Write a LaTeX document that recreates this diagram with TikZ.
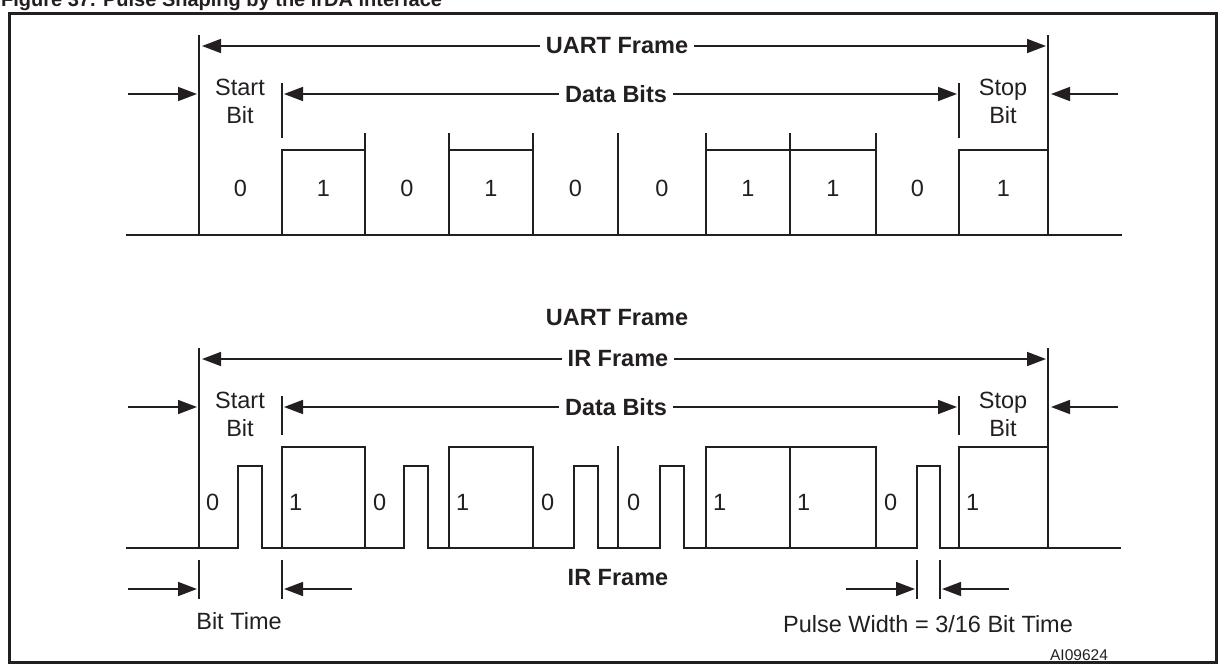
\documentclass[tikz,border=0pt]{standalone}
\usepackage{fontspec}
\setmainfont{Liberation Sans}
\usetikzlibrary{arrows.meta}
\definecolor{ink}{RGB}{35,31,32}
\begin{document}
\begin{tikzpicture}[x=1pt,y=-1pt,line join=miter,
  wave/.style={draw=ink,line width=1.6pt},
  dimarrow/.style={draw=ink,line width=1.6pt,-{Triangle[length=19pt,width=14pt]}},
  lbl/.style={font=\fontsize{23.5}{26}\selectfont,text=ink,inner sep=0pt},
  blbl/.style={font=\fontsize{23.5}{26}\selectfont\bfseries,text=ink,fill=white,inner xsep=6pt,inner ysep=2pt},
  bitlbl/.style={lbl,anchor=west}
]
\useasboundingbox (0,0) rectangle (1226,664);
% frame and title
\draw[ink,line width=2.5pt] (9.5,13.5) rectangle (1216.5,662.5);
\node[anchor=base west,font=\fontsize{20}{24}\selectfont\bfseries,text=ink,inner sep=0pt] (title) at (1,6.5) {Figure 37. Pulse Shaping by the IrDA interface};

% ================= TOP (UART) =================
\coordinate (tL) at (199,46); \coordinate (tR) at (1048,46);
\draw[wave] (199,35) -- (199,235);
\draw[wave] (1048,35) -- (1048,235);
\node[blbl] (uf1) at (617,46) {UART Frame};
\draw[dimarrow] (uf1.west) -- ([xshift=3pt]tL);
\draw[dimarrow] (uf1.east) -- ([xshift=-2pt]tR);
% data bits
\draw[wave] (282,83) -- (282,138);
\draw[wave] (959,83) -- (959,138);
\coordinate (dL1) at (284,94); \coordinate (dR1) at (957,94);
\node[blbl] (db1) at (616,94) {Data Bits};
\draw[dimarrow] (db1.west) -- (dL1);
\draw[dimarrow] (db1.east) -- (dR1);
% outer arrows
\coordinate (oL1) at (128,94); \coordinate (oL1e) at (197,94);
\coordinate (oR1) at (1118,94); \coordinate (oR1e) at (1051,94);
\draw[dimarrow] (oL1) -- (oL1e);
\draw[dimarrow] (oR1) -- (oR1e);
\node[lbl,anchor=base] (start1) at (240,95.4) {Start};
\node[lbl,anchor=base] (sbit1) at (240,123.4) {Bit};
\node[lbl,anchor=base] (stop1) at (1003,95.4) {Stop};
\node[lbl,anchor=base] (pbit1) at (1003,123.4) {Bit};
% waveform
\draw[wave] (126,235) -- (1122,235);
\draw[wave] (282,235) -- (282,150) -- (365,150);
\draw[wave] (365,133) -- (365,235);
\draw[wave] (449,133) -- (449,235);
\draw[wave] (449,150) -- (533,150);
\draw[wave] (533,133) -- (533,235);
\draw[wave] (618,133) -- (618,235);
\draw[wave] (706,133) -- (706,235);
\draw[wave] (790,133) -- (790,235);
\draw[wave] (876,133) -- (876,235);
\draw[wave] (706,150) -- (876,150);
\draw[wave] (959,235) -- (959,150) -- (1048,150);
% bit labels
\node[lbl] (a0) at (240.5,188) {0};
\node[lbl] (a1) at (323.5,188) {1};
\node[lbl] (a2) at (407,188) {0};
\node[lbl] (a3) at (491,188) {1};
\node[lbl] (a4) at (575.5,188) {0};
\node[lbl] (a5) at (662,188) {0};
\node[lbl] (a6) at (748,188) {1};
\node[lbl] (a7) at (833,188) {1};
\node[lbl] (a8) at (917.5,188) {0};
\node[lbl] (a9) at (1003.5,188) {1};

% ================= BOTTOM (IR) =================
\node[blbl,fill=none] (uf2) at (617,318) {UART Frame};
\coordinate (bL) at (199,359); \coordinate (bR) at (1048,359);
\draw[wave] (199,348) -- (199,548);
\draw[wave] (1048,348) -- (1048,548);
\node[blbl] (irf) at (618,359) {IR Frame};
\draw[dimarrow] (irf.west) -- ([xshift=3pt]bL);
\draw[dimarrow] (irf.east) -- ([xshift=-2pt]bR);
% data bits
\draw[wave] (282,396) -- (282,435);
\draw[wave] (959,396) -- (959,435);
\coordinate (dL2) at (284,407); \coordinate (dR2) at (957,407);
\node[blbl] (db2) at (616,407) {Data Bits};
\draw[dimarrow] (db2.west) -- (dL2);
\draw[dimarrow] (db2.east) -- (dR2);
\coordinate (oL2) at (128,407); \coordinate (oL2e) at (197,407);
\coordinate (oR2) at (1118,407); \coordinate (oR2e) at (1051,407);
\draw[dimarrow] (oL2) -- (oL2e);
\draw[dimarrow] (oR2) -- (oR2e);
\node[lbl,anchor=base] (start2) at (240,408.4) {Start};
\node[lbl,anchor=base] (sbit2) at (240,436.4) {Bit};
\node[lbl,anchor=base] (stop2) at (1003,408.4) {Stop};
\node[lbl,anchor=base] (pbit2) at (1003,436.4) {Bit};
% IR waveform
\draw[wave] (126,548) -- (238,548) -- (238,466) -- (262,466) -- (262,548)
  -- (404,548) -- (404,466) -- (428,466) -- (428,548)
  -- (574,548) -- (574,466) -- (598,466) -- (598,548)
  -- (660,548) -- (660,466) -- (684,466) -- (684,548)
  -- (917,548) -- (917,466) -- (940,466) -- (940,548) -- (1121,548);
\draw[wave] (282,548) -- (282,447) -- (365,447) -- (365,548);
\draw[wave] (449,548) -- (449,447) -- (533,447) -- (533,548);
\draw[wave] (706,548) -- (706,447) -- (876,447) -- (876,548);
\draw[wave] (790,447) -- (790,548);
\draw[wave] (959,548) -- (959,447) -- (1048,447);
\draw[wave] (618,446) -- (618,548);
% bit labels
\node[bitlbl] (b0) at (206,502) {0};
\node[bitlbl] (b1) at (289,502) {1};
\node[bitlbl] (b2) at (373,502) {0};
\node[bitlbl] (b3) at (456,502) {1};
\node[bitlbl] (b4) at (541,502) {0};
\node[bitlbl] (b5) at (627,502) {0};
\node[bitlbl] (b6) at (713,502) {1};
\node[bitlbl] (b7) at (797,502) {1};
\node[bitlbl] (b8) at (884,502) {0};
\node[bitlbl] (b9) at (966,502) {1};
% IR Frame label under baseline
\node[blbl,fill=none] (irf2) at (618,578) {IR Frame};
% bit time
\draw[wave] (199,560) -- (199,599);
\draw[wave] (282,560) -- (282,599);
\coordinate (btL) at (128,589); \coordinate (btLe) at (197,589);
\coordinate (btR) at (352,589); \coordinate (btRe) at (284,589);
\draw[dimarrow] (btL) -- (btLe);
\draw[dimarrow] (btR) -- (btRe);
\node[lbl] (bittime) at (239,621) {Bit Time};
% pulse width
\draw[wave] (917,560) -- (917,599);
\draw[wave] (940,560) -- (940,599);
\coordinate (pwL) at (846,589); \coordinate (pwLe) at (915,589);
\coordinate (pwR) at (1009,589); \coordinate (pwRe) at (942,589);
\draw[dimarrow] (pwL) -- (pwLe);
\draw[dimarrow] (pwR) -- (pwRe);
\node[lbl] (pw) at (928,624) {Pulse Width = 3/16 Bit Time};
\node[font=\fontsize{15.5}{18}\selectfont,text=ink,inner sep=0pt] (ai) at (1079,655) {AI09624};
\end{tikzpicture}
\end{document}
